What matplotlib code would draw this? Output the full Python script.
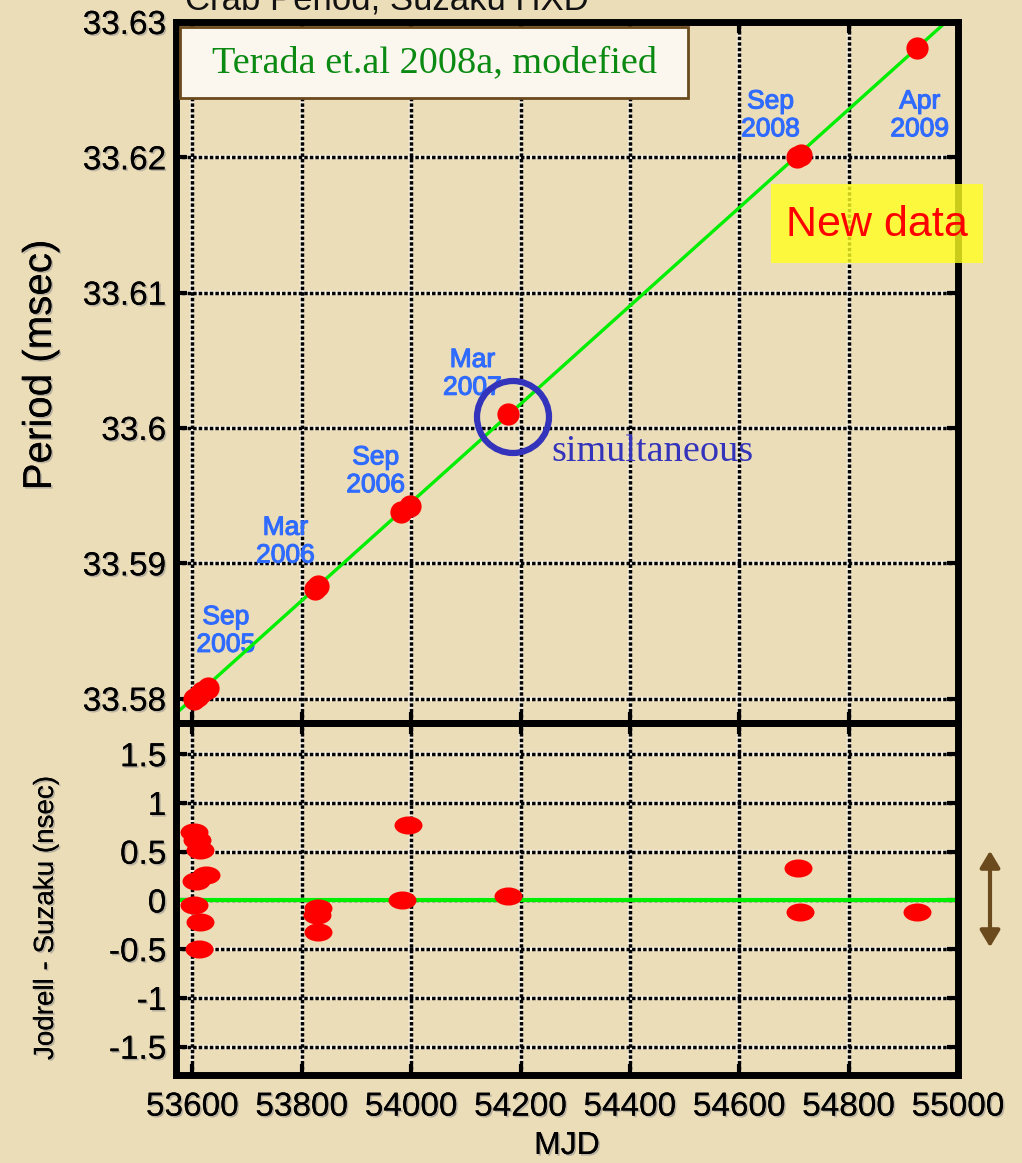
import matplotlib
matplotlib.use("Agg")
import matplotlib.pyplot as plt
from matplotlib.markers import MarkerStyle
from matplotlib.transforms import Affine2D
from matplotlib.patches import Rectangle, Ellipse, FancyArrowPatch
import matplotlib.patheffects as pe

# ---------------- data ----------------
fit_mjd = [53570, 55000]
fit_period = [33.5789, 33.6308]

obs_mjd = [53603, 53610, 53618, 53628, 53825, 53830, 53982, 53998,
           54178, 54705, 54712, 54925]
obs_period = [33.5800, 33.5802, 33.5805, 33.5808, 33.5881, 33.5883,
              33.5938, 33.5942, 33.6010, 33.6200, 33.6202, 33.6281]

res_mjd = [53603, 53608, 53613, 53606, 53624, 53603, 53613, 53612,
           53830, 53828, 53830, 53995, 53984, 54178, 54708, 54711, 54925]
res_ns = [0.70, 0.62, 0.52, 0.20, 0.26, -0.05, -0.22, -0.50,
          -0.08, -0.15, -0.32, 0.77, 0.00, 0.05, 0.33, -0.12, -0.12]

epoch_labels = ["Sep\n2005", "Mar\n2006", "Sep\n2006", "Mar\n2007", "Sep\n2008", "Apr\n2009"]
epoch_mjd = [53661, 53770, 53935, 54112, 54657, 54930]
epoch_period = [33.5850, 33.5916, 33.5968, 33.6040, 33.6231, 33.6231]

x_ticks = [53600, 53800, 54000, 54200, 54400, 54600, 54800, 55000]
top_yticks = [33.58, 33.59, 33.60, 33.61, 33.62, 33.63]
top_ytick_labels = ["33.58", "33.59", "33.6", "33.61", "33.62", "33.63"]
bot_yticks = [-1.5, -1.0, -0.5, 0.0, 0.5, 1.0, 1.5]
bot_ytick_labels = ["-1.5", "-1", "-0.5", "0", "0.5", "1", "1.5"]

# ---------------- figure ----------------
W, H = 1022, 1163
fig = plt.figure(figsize=(W / 100, H / 100), dpi=100)
fig.patch.set_facecolor("#ECDDB9")
SANS = ["Liberation Sans", "DejaVu Sans"]
SERIF = ["Liberation Serif", "DejaVu Serif"]
plt.rcParams["font.family"] = SANS

def fx(px):
    return px / W

def fy(py):
    return 1 - py / H

left, right = 176, 958
ax1 = fig.add_axes([fx(left), fy(723), fx(right - left), (723 - 22) / H])
ax2 = fig.add_axes([fx(left), fy(1075), fx(right - left), (1075 - 723) / H])

shadow = [pe.withSimplePatchShadow(offset=(1.2, -1.2), shadow_rgbFace="#888888", alpha=0.5), pe.Normal()]

def style(ax, yticks, ylabels):
    ax.set_facecolor("none")
    ax.set_xlim(53570, 55000)
    ax.set_xticks(x_ticks)
    ax.set_yticks(yticks)
    ax.set_yticklabels(ylabels)
    for v in x_ticks:
        ax.axvline(v, color="white", lw=3.2, alpha=0.6, zorder=1)
        ax.axvline(v, color="black", lw=2.5, ls=(0, (1.0, 0.6)), zorder=1.1)
    for v in yticks:
        ax.axhline(v, color="white", lw=3.2, alpha=0.6, zorder=1)
        ax.axhline(v, color="black", lw=2.5, ls=(0, (1.0, 0.6)), zorder=1.1)
    for s in ax.spines.values():
        s.set_linewidth(5)
        s.set_zorder(6)
    ax.tick_params(direction="in", length=8, width=3, labelsize=24,
                   left=True, right=True, top=True, bottom=True, pad=7)
    ax.tick_params(axis="x", pad=12)
    for lab in ax.get_yticklabels() + ax.get_xticklabels():
        lab.set_path_effects(shadow)

# top panel
style(ax1, top_yticks, top_ytick_labels)
ax1.set_ylim(33.5782, 33.63)
ax1.tick_params(labelbottom=False)
ax1.plot(fit_mjd, fit_period, color="#00EE00", lw=2.4, zorder=3)
ax1.plot(obs_mjd, obs_period, "o", color="#FF0000", ms=16, mec="none", zorder=4)
for lab, m, p in zip(epoch_labels, epoch_mjd, epoch_period):
    ax1.text(m, p, lab, color="#2F6BFF", fontsize=19, family=SANS,
             ha="center", va="center", linespacing=1.2, zorder=2,
             path_effects=[pe.withStroke(linewidth=0.8, foreground="#2F6BFF")])

# bottom panel
style(ax2, bot_yticks, bot_ytick_labels)
ax2.set_ylim(-1.79, 1.82)
ax2.axhline(0, color="#00EE00", lw=3, zorder=3)
ell = MarkerStyle("o", transform=Affine2D().scale(1.55, 1.0))
ax2.plot(res_mjd, res_ns, linestyle="none", marker=ell, color="#FF0000",
         ms=13, mec="none", zorder=4)
ax2.set_xlabel("MJD", fontsize=23, labelpad=6)

# axis labels
fig.text(fx(40), fy(365), "Period (msec)", rotation=90, fontsize=29,
         ha="center", va="center", path_effects=shadow)
fig.text(fx(46), fy(918), "Jodrell - Suzaku (nsec)", rotation=90, fontsize=20,
         ha="center", va="center", path_effects=shadow)
ax2.xaxis.label.set_path_effects(shadow)

# partially visible title
fig.text(fx(185), fy(9), "Crab Period, Suzaku HXD", fontsize=25,
         ha="left", va="baseline", color="#111111")

# Terada box
fig.add_artist(Rectangle((fx(180), fy(98)), fx(508), 71 / H, transform=fig.transFigure,
                         facecolor="#FBF7EE", edgecolor="#6B4A1E", lw=2, zorder=10))
fig.text(fx(434), fy(63), "Terada et.al 2008a, modefied", fontsize=27.5, family=SERIF,
         color="#0A8A12", ha="center", va="center", zorder=11)

# New data box
fig.add_artist(Rectangle((fx(771), fy(263)), fx(212), 79 / H, transform=fig.transFigure,
                         facecolor="#FFFF20", edgecolor="none", alpha=0.8, zorder=10))
fig.text(fx(877), fy(225), "New data", fontsize=31, family=SANS,
         color="#FF0000", ha="center", va="center", zorder=11)

# simultaneous circle + label
fig.add_artist(Ellipse((fx(513), fy(417)), 72 / W, 72 / H, transform=fig.transFigure,
                       facecolor="none", edgecolor="#3333BB", lw=4.5, zorder=10))
fig.text(fx(551), fy(452), "simultaneous", fontsize=27.5, family=SERIF,
         color="#3333BB", ha="left", va="center", zorder=11)

# brown double arrow
fig.add_artist(FancyArrowPatch((fx(990), fy(950)), (fx(990), fy(848)),
                               transform=fig.transFigure, arrowstyle="<|-|>,head_length=10,head_width=6",
                               color="#6B4A1E", lw=3, zorder=10))

fig.savefig("out.png", dpi=100, facecolor=fig.get_facecolor())
